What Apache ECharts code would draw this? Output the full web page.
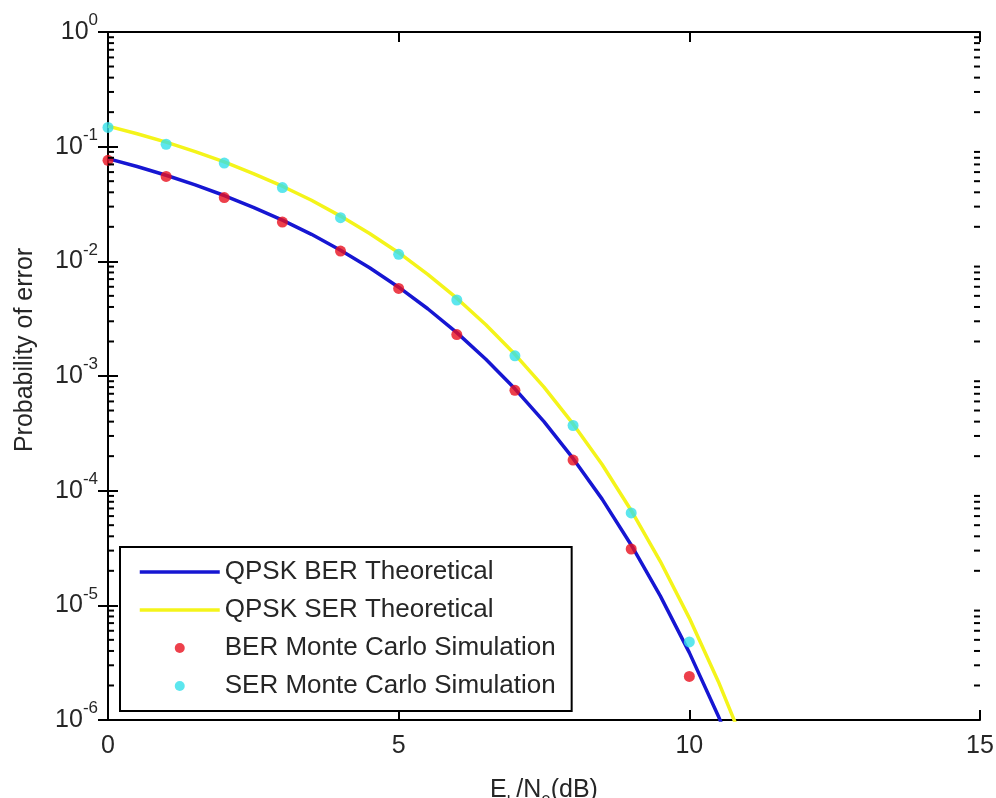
<!DOCTYPE html>
<html>
<head>
<meta charset="utf-8">
<script src="https://cdn.jsdelivr.net/npm/echarts@6/dist/echarts.min.js"></script>
<style>
html,body{margin:0;padding:0;background:#fff;}
#chart{width:996px;height:798px;}
</style>
</head>
<body>
<div id="chart"></div>
<script>
// Eb/N0 (dB) grid for theoretical curves
const ebnoTheory = [0,0.5,1,1.5,2,2.5,3,3.5,4,4.5,5,5.5,6,6.5,7,7.5,8,8.5,9,9.5,10,10.5,11];
const berTheory = [7.86e-2,6.71e-2,5.63e-2,4.64e-2,3.75e-2,2.96e-2,2.29e-2,1.72e-2,1.25e-2,8.8e-3,5.95e-3,3.86e-3,2.39e-3,1.40e-3,7.73e-4,4.0e-4,1.91e-4,8.44e-5,3.36e-5,1.21e-5,3.87e-6,1.08e-6,2.6e-7];
const serTheory = [0.151,0.1297,0.1094,0.0906,0.0736,0.0583,0.0452,0.0341,0.0248,0.0175,0.0119,7.71e-3,4.77e-3,2.80e-3,1.545e-3,8.0e-4,3.82e-4,1.69e-4,6.72e-5,2.42e-5,7.74e-6,2.16e-6,5.2e-7];
// Monte Carlo points
const ebnoSim = [0,1,2,3,4,5,6,7,8,9,10];
const berSim = [7.6e-2,5.5e-2,3.6e-2,2.2e-2,1.23e-2,5.8e-3,2.3e-3,7.5e-4,1.85e-4,3.1e-5,2.4e-6];
const serSim = [0.147,0.105,0.072,0.044,0.024,0.0115,4.6e-3,1.5e-3,3.7e-4,6.4e-5,4.8e-6];
// axis ticks
const xTicks = [0,5,10,15];
const decades = [-6,-5,-4,-3,-2,-1];
const mantissas = [2,3,4,5,6,7,8,9];
const legendNames = ['QPSK BER Theoretical','QPSK SER Theoretical','BER Monte Carlo Simulation','SER Monte Carlo Simulation'];

const minorTicks = [];
decades.forEach(d => mantissas.forEach(m => minorTicks.push([0, m * Math.pow(10, d)])));

const zip = (xs, ys) => xs.map((x, i) => [x, ys[i]]);
const FONT = '"Liberation Sans", Arial, sans-serif';
const TXT = '#262626';
const BLUE = '#1616d2', YELLOW = '#f4f41a', RED = '#e8101e', CYAN = '#33e0ea';

const chart = echarts.init(document.getElementById('chart'), null, {renderer: 'canvas'});
const axisLine = {show: true, lineStyle: {color: '#000', width: 2}};
const tick = {show: true, inside: true, length: 10, lineStyle: {color: '#000', width: 2}};

chart.setOption({
  animation: false,
  backgroundColor: '#fff',
  grid: {left: 108, right: 16, top: 32, bottom: 78, containLabel: false, outerBoundsMode: 'none'},
  xAxis: [{
    type: 'value', min: 0, max: 15, interval: 5, position: 'bottom',
    axisLine: axisLine, axisTick: tick, splitLine: {show: false},
    axisLabel: {color: TXT, fontSize: 25, fontFamily: FONT, margin: 14,
      formatter: v => xTicks.includes(v) ? String(v) : ''},
    name: '{n|E}{s|b}{n|/N}{s|0}{n|(dB)}',
    nameLocation: 'middle', nameGap: 55,
    nameTextStyle: {color: TXT, fontFamily: FONT, rich: {
      n: {fontSize: 25, fontFamily: FONT, color: TXT, lineHeight: 30},
      s: {fontSize: 17, fontFamily: FONT, color: TXT, verticalAlign: 'bottom', lineHeight: 17, padding: [0,0,-6,0]}
    }}
  }, {
    type: 'value', min: 0, max: 15, interval: 5, position: 'top',
    axisLine: axisLine, axisTick: tick, axisLabel: {show: false}, splitLine: {show: false}
  }],
  yAxis: [{
    type: 'log', logBase: 10, min: 1e-6, max: 1, position: 'left',
    axisLine: axisLine, axisTick: tick, splitLine: {show: false},
    axisLabel: {margin: 10, fontFamily: FONT,
      formatter: v => '{b|10}{e|' + Math.round(Math.log10(v)) + '}',
      rich: {
        b: {fontSize: 25, fontFamily: FONT, color: TXT, lineHeight: 40},
        e: {fontSize: 17, fontFamily: FONT, color: TXT, lineHeight: 17, verticalAlign: 'top'}
      }},
    name: 'Probability of error', nameLocation: 'middle', nameGap: 70, nameRotate: 90,
    nameTextStyle: {color: TXT, fontSize: 25, fontFamily: FONT, padding: [0,0,0,52]}
  }, {
    type: 'log', logBase: 10, min: 1e-6, max: 1, position: 'right',
    axisLine: axisLine, axisTick: tick, axisLabel: {show: false}, splitLine: {show: false}
  }],
  legend: {
    data: [
      {name: legendNames[0], itemStyle: {opacity: 0}, lineStyle: {color: BLUE, width: 3.5}},
      {name: legendNames[1], itemStyle: {opacity: 0}, lineStyle: {color: YELLOW, width: 3.5}},
      {name: legendNames[2], icon: 'circle'},
      {name: legendNames[3], icon: 'circle'}
    ],
    orient: 'vertical', left: 120, top: 547,
    itemWidth: 80, itemHeight: 10, itemGap: 8,
    padding: [10, 16, 10, 18],
    borderColor: '#000', borderWidth: 2, backgroundColor: '#fff',
    textStyle: {color: TXT, fontSize: 26, fontFamily: FONT, lineHeight: 30},
    selectedMode: false
  },
  series: [{
    name: legendNames[0], type: 'line', data: zip(ebnoTheory, berTheory),
    symbol: 'none', lineStyle: {color: BLUE, width: 3.5}, itemStyle: {color: BLUE},
    clip: true, z: 3
  }, {
    name: legendNames[1], type: 'line', data: zip(ebnoTheory, serTheory),
    symbol: 'none', lineStyle: {color: YELLOW, width: 3.5}, itemStyle: {color: YELLOW},
    clip: true, z: 3
  }, {
    name: legendNames[2], type: 'scatter', data: zip(ebnoSim, berSim),
    symbol: 'circle', symbolSize: 11, itemStyle: {color: RED}, z: 4
  }, {
    name: legendNames[3], type: 'scatter', data: zip(ebnoSim, serSim),
    symbol: 'circle', symbolSize: 11, itemStyle: {color: CYAN}, z: 4
  }, {
    type: 'custom', data: minorTicks, silent: true, z: 5,
    renderItem: (params, api) => {
      const p = api.coord([0, api.value(1)]);
      const q = api.coord([15, api.value(1)]);
      const st = {stroke: '#000', lineWidth: 2};
      return {type: 'group', children: [
        {type: 'line', shape: {x1: p[0], y1: p[1], x2: p[0] + 6, y2: p[1]}, style: st},
        {type: 'line', shape: {x1: q[0], y1: q[1], x2: q[0] - 6, y2: q[1]}, style: st}
      ]};
    }
  }]
});
</script>
</body>
</html>
